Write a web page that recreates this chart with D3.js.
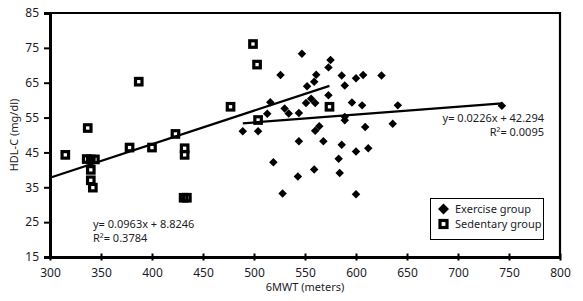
<!DOCTYPE html>
<html>
<head>
<meta charset="utf-8">
<script src="https://cdn.jsdelivr.net/npm/d3@7"></script>
<style>
  body { margin: 0; background: #fff; }
  svg { font-family: 'Noto Sans', sans-serif; }
</style>
</head>
<body>
<div id="chart"></div>
<script>
// exercise group (6MWT, HDL-C)
const exerciseX = [547, 575, 573, 526, 561, 559, 552, 586, 600, 607, 625, 589, 573, 516, 556,
  551, 560, 596, 606, 641, 530, 534, 544, 513, 589, 589, 489, 504, 564, 560, 609, 636, 544,
  568, 586, 612, 600, 583, 584, 600, 519, 559, 543, 528, 743]
const exerciseY = [73.3, 71.5, 69.4, 67.2, 67.3, 65.3, 64, 67.1, 66.3, 67.2, 67.1, 64.2, 61.4, 59.4, 60.4,
  59.2, 59.2, 59.3, 58.5, 58.5, 57.6, 56.2, 56.3, 56.1, 55.2, 54.2, 51.1, 51.1, 52.5, 51.2, 52.3, 53.2, 48.2,
  48.2, 47.2, 46.2, 45.3, 43.2, 39.1, 33, 42.2, 40.1, 38.1, 33.2, 58.4]

// sedentary group
const sedentaryX = [315, 337, 336, 340, 344, 340, 340, 342, 387, 378, 400, 423, 432, 432, 431, 434.2,
  477, 499, 503, 504, 574]
const sedentaryY = [44.3, 52, 43.1, 43, 43, 40, 37, 34.9, 65.3, 46.4, 46.4, 50.3, 46.2, 44.3, 32, 32,
  58.1, 76.1, 70.2, 54.3, 58.1]

// regression fits as printed on the chart
const exerciseFit = { slope: 0.0226, intercept: 42.294, from: 489, to: 743 }
const sedentaryFit = { slope: 0.0963, intercept: 8.8246, from: 300, to: 574 }

const xTicks = [300, 350, 400, 450, 500, 550, 600, 650, 700, 750, 800]
const yTicks = [15, 25, 35, 45, 55, 65, 75, 85]

const width = 583, height = 301
const margin = { top: 13, right: 23, bottom: 44, left: 50 }

const svg = d3.select('#chart')
  .append('svg')
  .attr('width', width)
  .attr('height', height)

const x = d3.scaleLinear()
  .domain([300, 800])
  .range([margin.left, width - margin.right])

const y = d3.scaleLinear()
  .domain([15, 85])
  .range([height - margin.bottom, margin.top])

const textColor = '#1c1c28'

// frame (top + right)
svg.append('path')
  .attr('d', `M${x(300)},${y(85)}H${x(800)}V${y(15)}`)
  .attr('fill', 'none')
  .attr('stroke', '#000')
  .attr('stroke-width', 2.2)

// X axis
svg.append('g')
  .attr('transform', `translate(0,${y(15)})`)
  .call(d3.axisBottom(x).tickValues(xTicks).tickSize(0).tickPadding(11))
  .call(g => g.select('.domain').attr('stroke-width', 3))
  .call(g => g.selectAll('.tick line').clone()
    .attr('y1', -3.5).attr('y2', 3.5).attr('stroke-width', 2))
  .call(g => g.selectAll('.tick text')
    .attr('fill', textColor).attr('font-size', 12).attr('font-family', 'Noto Sans'))

// Y axis
svg.append('g')
  .attr('transform', `translate(${x(300)},0)`)
  .call(d3.axisLeft(y).tickValues(yTicks).tickSize(6).tickPadding(5))
  .call(g => g.select('.domain').attr('stroke-width', 3))
  .call(g => g.selectAll('.tick line').attr('stroke-width', 2))
  .call(g => g.selectAll('.tick text')
    .attr('fill', textColor).attr('font-size', 12).attr('font-family', 'Noto Sans'))

// axis titles
svg.append('text')
  .attr('x', (x(300) + x(800)) / 2)
  .attr('y', 291)
  .attr('text-anchor', 'middle')
  .attr('font-size', 11)
  .attr('fill', textColor)
  .text('6MWT (meters)')

svg.append('text')
  .attr('transform', `translate(18,${(y(15) + y(85)) / 2}) rotate(-90)`)
  .attr('text-anchor', 'middle')
  .attr('font-size', 11)
  .attr('fill', textColor)
  .text('HDL-C (mg/dl)')

// regression lines
const fitLine = f => [[f.from, f.slope * f.from + f.intercept], [f.to, f.slope * f.to + f.intercept]]
const line = d3.line().x(d => x(d[0])).y(d => y(d[1]))

svg.append('g')
  .selectAll('path')
  .data([fitLine(sedentaryFit), fitLine(exerciseFit)])
  .join('path')
  .attr('d', line)
  .attr('fill', 'none')
  .attr('stroke', '#000')
  .attr('stroke-width', 2.2)

// markers
const diamond = d3.symbol(d3.symbolSquare, 36)

svg.append('g')
  .selectAll('path')
  .data(exerciseX.map((v, i) => [v, exerciseY[i]]))
  .join('path')
  .attr('d', diamond)
  .attr('transform', d => `translate(${x(d[0])},${y(d[1])}) rotate(45)`)
  .attr('fill', '#000')

// open squares, no fill so overlapping ones merge into a block
svg.append('g')
  .selectAll('rect')
  .data(sedentaryX.map((v, i) => [v, sedentaryY[i]]))
  .join('rect')
  .attr('x', d => x(d[0]) - 3.25)
  .attr('y', d => y(d[1]) - 3.25)
  .attr('width', 6.5)
  .attr('height', 6.5)
  .attr('fill', 'none')
  .attr('stroke', '#000')
  .attr('stroke-width', 3.2)

// equations
const eqs = [
  { lines: ['y= 0.0963x + 8.8246', 'R²= 0.3784'], x: 93, y: 228, anchor: 'start' },
  { lines: ['y= 0.0226x + 42.294', 'R²= 0.0095'], x: 544, y: 122, anchor: 'end' }
]
eqs.forEach(e => {
  svg.append('text')
    .attr('font-size', 11)
    .attr('fill', textColor)
    .attr('text-anchor', e.anchor)
    .selectAll('tspan')
    .data(e.lines)
    .join('tspan')
    .attr('x', e.x)
    .attr('y', (d, i) => e.y + i * 14)
    .text(d => d)
})

// legend
const legend = svg.append('g').attr('transform', 'translate(430.5,198.5)')
legend.append('rect')
  .attr('width', 113)
  .attr('height', 41)
  .attr('fill', '#fff')
  .attr('stroke', '#000')
  .attr('stroke-width', 1)

legend.append('path')
  .attr('d', d3.symbol(d3.symbolSquare, 60))
  .attr('transform', 'translate(13,10.5) rotate(45)')
  .attr('fill', '#000')
legend.append('rect')
  .attr('x', 9.5).attr('y', 22)
  .attr('width', 7).attr('height', 7)
  .attr('fill', '#fff')
  .attr('stroke', '#000')
  .attr('stroke-width', 3.2)

legend.selectAll('text.item')
  .data(['Exercise group', 'Sedentary group'])
  .join('text')
  .attr('class', 'item')
  .attr('x', 24.5)
  .attr('y', (d, i) => 14.5 + i * 15)
  .attr('font-size', 11)
  .attr('fill', textColor)
  .text(d => d)
</script>
</body>
</html>
